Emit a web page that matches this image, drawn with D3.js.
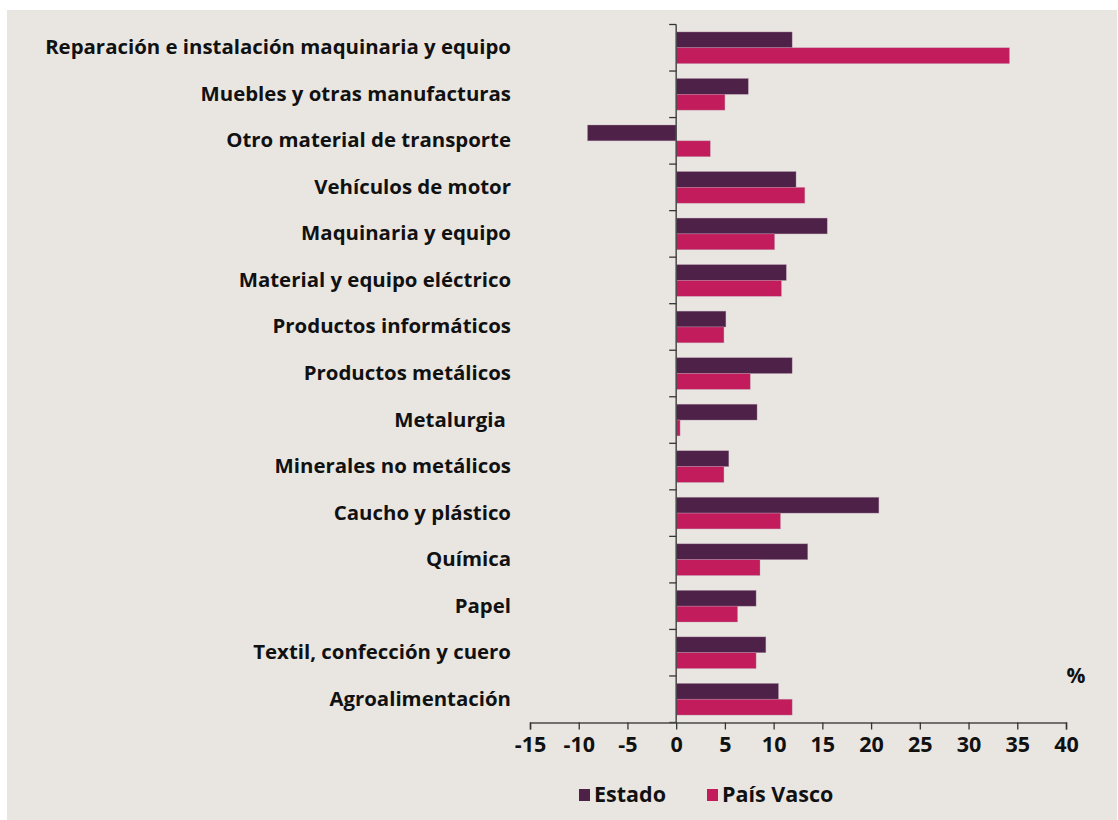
<!DOCTYPE html>
<html>
<head>
<meta charset="utf-8">
<script src="https://cdn.jsdelivr.net/npm/d3@7"></script>
<style>
  html, body { margin: 0; padding: 0; background: #ffffff; }
  svg { display: block; }
  text { font-family: "Open Sans", "Noto Sans", sans-serif; font-weight: 700; fill: #111; }
</style>
</head>
<body>
<svg id="chart" width="1118" height="820"></svg>
<script>
// Sectors, top to bottom
const categories = [
  "Reparación e instalación maquinaria y equipo",
  "Muebles y otras manufacturas",
  "Otro material de transporte",
  "Vehículos de motor",
  "Maquinaria y equipo",
  "Material y equipo eléctrico",
  "Productos informáticos",
  "Productos metálicos",
  "Metalurgia ",
  "Minerales no metálicos",
  "Caucho y plástico",
  "Química",
  "Papel",
  "Textil, confección y cuero",
  "Agroalimentación"
];

// Percentage change by sector
const estado    = [11.9, 7.4, -9.1, 12.3, 15.5, 11.3, 5.1, 11.9, 8.3, 5.4, 20.8, 13.5, 8.2, 9.2, 10.5];
const paisVasco = [34.2, 5.0,  3.5, 13.2, 10.1, 10.8, 4.9,  7.6, 0.4, 4.9, 10.7,  8.6, 6.3, 8.2, 11.9];

const seriesNames = ["Estado", "País Vasco"];
const seriesColors = ["#4e2149", "#c21c5c"];
const xTicks = [-15, -10, -5, 0, 5, 10, 15, 20, 25, 30, 35, 40];

const svg = d3.select("#chart");

// panel background
svg.append("rect")
  .attr("x", 7).attr("y", 10)
  .attr("width", 1110).attr("height", 810)
  .attr("fill", "#e9e6e1");

const x = d3.scaleLinear().domain([-15, 40]).range([530, 1066]);
const y = d3.scaleBand().domain(categories).range([24.5, 722.5]);
const sub = d3.scaleBand().domain(seriesNames).range([0, y.bandwidth()]).paddingOuter(0.47).paddingInner(0);

const rows = categories.map((c, i) => ({ cat: c, vals: [estado[i], paisVasco[i]] }));

// bars
const g = svg.append("g");
rows.forEach(r => {
  r.vals.forEach((v, j) => {
    g.append("rect")
      .attr("x", x(Math.min(0, v)))
      .attr("y", y(r.cat) + sub(seriesNames[j]))
      .attr("width", Math.abs(x(v) - x(0)))
      .attr("height", sub.bandwidth())
      .attr("fill", seriesColors[j])
      .attr("stroke", "#b89aae")
      .attr("stroke-opacity", 0.6)
      .attr("stroke-width", 0.6);
  });
});

// category axis along zero
svg.append("line")
  .attr("x1", x(0)).attr("x2", x(0))
  .attr("y1", y.range()[0]).attr("y2", y.range()[1])
  .attr("stroke", "#4a4a4a").attr("stroke-width", 1.5);

const bounds = categories.map(c => y(c)).concat([y.range()[1]]);
svg.selectAll(".ctick").data(bounds).enter().append("line")
  .attr("x1", x(0) - 7).attr("x2", x(0))
  .attr("y1", d => d).attr("y2", d => d)
  .attr("stroke", "#333").attr("stroke-width", 1.3);

// category labels
svg.selectAll(".clabel").data(categories).enter().append("text")
  .attr("x", 511)
  .attr("y", d => y(d) + y.bandwidth() / 2 - 1.5)
  .attr("text-anchor", "end")
  .attr("dominant-baseline", "central")
  .style("white-space", "pre")
  .attr("font-size", 20.4)
  .text(d => d);

// value axis
const xAxis = svg.append("g")
  .attr("transform", `translate(0,${y.range()[1]})`)
  .call(d3.axisBottom(x).tickValues(xTicks).tickSize(7).tickPadding(7).tickFormat(d3.format("d")));
xAxis.select(".domain").attr("stroke", "#4a4a4a").attr("stroke-width", 1.5);
xAxis.selectAll(".tick line").attr("stroke", "#333").attr("stroke-width", 1.3);
xAxis.selectAll(".tick text")
  .attr("font-size", 21.5)
  .attr("font-family", "'Open Sans', sans-serif")
  .attr("font-weight", 700)
  .attr("fill", "#111")
  .text(d => d < 0 ? "-" + Math.abs(d) : d);

// unit
svg.append("text")
  .attr("x", 1076).attr("y", 675)
  .attr("text-anchor", "middle")
  .attr("dominant-baseline", "central")
  .attr("font-size", 21)
  .text("%");

// legend
const legendX = [579, 707];
seriesNames.forEach((n, j) => {
  svg.append("rect")
    .attr("x", legendX[j]).attr("y", 789)
    .attr("width", 11).attr("height", 12)
    .attr("fill", seriesColors[j]);
  svg.append("text")
    .attr("x", legendX[j] + 15).attr("y", 793.5)
    .attr("dominant-baseline", "central")
    .attr("font-size", 21.5)
    .text(n);
});
</script>
</body>
</html>
